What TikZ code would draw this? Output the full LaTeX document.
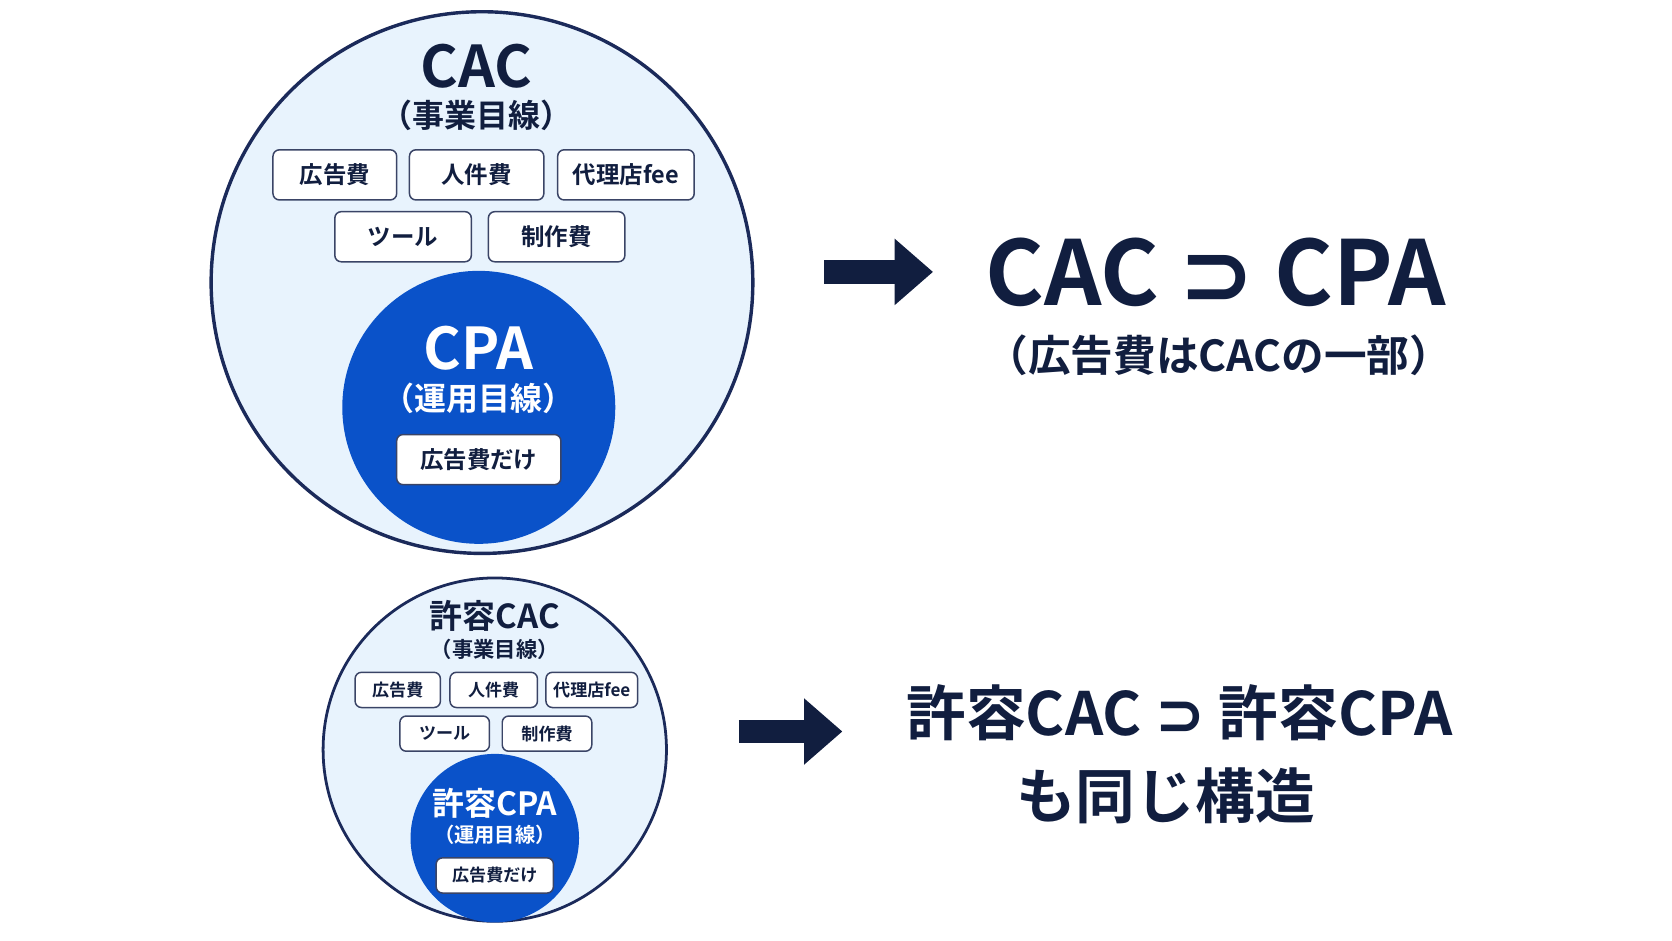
\documentclass[tikz,border=0pt]{standalone}
\usepackage{fontspec}
\setmainfont{Noto Sans CJK JP}[BoldFont={* Bold}]
\newfontfamily\sym{DejaVu Sans}[BoldFont={* Bold}]
\usetikzlibrary{arrows.meta}
\definecolor{navy}{HTML}{1B2A5A}
\definecolor{darknavy}{HTML}{111E3F}
\definecolor{lightbg}{HTML}{E8F3FD}
\definecolor{cpablue}{HTML}{0A52C9}
\definecolor{boxline}{HTML}{3A4466}
\begin{document}
\begin{tikzpicture}[x=0.5pt,y=-0.5pt,
  item/.style={draw=boxline,line width=0.7pt,fill=white,rounded corners=3pt,text=darknavy,font=\bfseries\fontsize{11}{13}\selectfont,inner sep=0pt},
  bigbox/.style={item,minimum width=58pt,minimum height=23.5pt},
  smallbox/.style={item,font=\bfseries\fontsize{8}{10}\selectfont,minimum width=40pt,minimum height=16.5pt},
  ttl/.style={text=darknavy,font=\bfseries\fontsize{27}{30}\selectfont,inner sep=0pt},
  sub/.style={text=darknavy,font=\bfseries\fontsize{15}{18}\selectfont,inner sep=0pt},
  arr/.style={darknavy,line width=11pt,-{Triangle[length=18pt,width=30pt]}}]
\fill[white] (0,0) rectangle (1568,882);
\useasboundingbox (0,0) rectangle (1568,882);
% top big circle
\draw[navy,line width=1.6pt,fill=lightbg] (452,265) circle[radius=254];
\node[ttl] (cac) at (447,62) {CAC};
\node[sub] (cacs) at (447,108) {（事業目線）};
\node[bigbox] (b1) at (314,164) {広告費};
\node[bigbox,minimum width=63pt] (b2) at (447,164) {人件費};
\node[bigbox,minimum width=64pt] (b3) at (587,164) {代理店fee};
\node[bigbox,minimum width=64pt] (b4) at (378,222) {ツール};
\node[bigbox,minimum width=64pt] (b5) at (522,222) {制作費};
\fill[cpablue] (449,382) circle[radius=128];
\node[ttl,text=white] (cpa) at (449,327) {CPA};
\node[sub,text=white] (cpas) at (449,374) {（運用目線）};
\node[bigbox,minimum width=77pt] (b6) at (449,431) {広告費だけ};
% top arrow and formula
\coordinate (a1s) at (773,255);
\coordinate (a1e) at (875,255);
\draw[arr] (a1s) -- (a1e);
\node[text=darknavy,font=\bfseries\fontsize{42}{46}\selectfont,inner sep=0pt] (f1) at (1140,255) {CAC {\sym\bfseries ⊃} CPA};
\node[text=darknavy,font=\bfseries\fontsize{20}{24}\selectfont,inner sep=0pt] (f1s) at (1143,333) {（広告費はCACの一部）};
% bottom circle
\draw[navy,line width=1.3pt,fill=lightbg] (464,703) circle[radius=161];
\node[ttl,font=\bfseries\fontsize{15.5}{18}\selectfont] (pcac) at (464,578) {許容CAC};
\node[sub,font=\bfseries\fontsize{10}{12}\selectfont] (pcacs) at (464,609) {（事業目線）};
\node[smallbox] (s1) at (373,647) {広告費};
\node[smallbox,minimum width=41pt] (s2) at (463,647) {人件費};
\node[smallbox,minimum width=43pt] (s3) at (555,647) {代理店fee};
\node[smallbox,minimum width=42pt] (s4) at (417,688) {ツール};
\node[smallbox,minimum width=42pt] (s5) at (513,688) {制作費};
\fill[cpablue] (464,786) circle[radius=79];
\node[ttl,text=white,font=\bfseries\fontsize{15}{18}\selectfont] (pcpa) at (464,753) {許容CPA};
\node[sub,text=white,font=\bfseries\fontsize{9.5}{12}\selectfont] (pcpas) at (464,783) {（運用目線）};
\node[smallbox,minimum width=55pt] (s6) at (464,821) {広告費だけ};
% bottom arrow and formula
\coordinate (a2s) at (693,686);
\coordinate (a2e) at (790,686);
\draw[arr] (a2s) -- (a2e);
\node[text=darknavy,font=\bfseries\fontsize{28}{32}\selectfont,inner sep=0pt] (f2) at (1106,668) {許容CAC {\sym\bfseries ⊃} 許容CPA};
\node[text=darknavy,font=\bfseries\fontsize{28}{32}\selectfont,inner sep=0pt] (f2s) at (1093,746) {も同じ構造};
\end{tikzpicture}
\end{document}
